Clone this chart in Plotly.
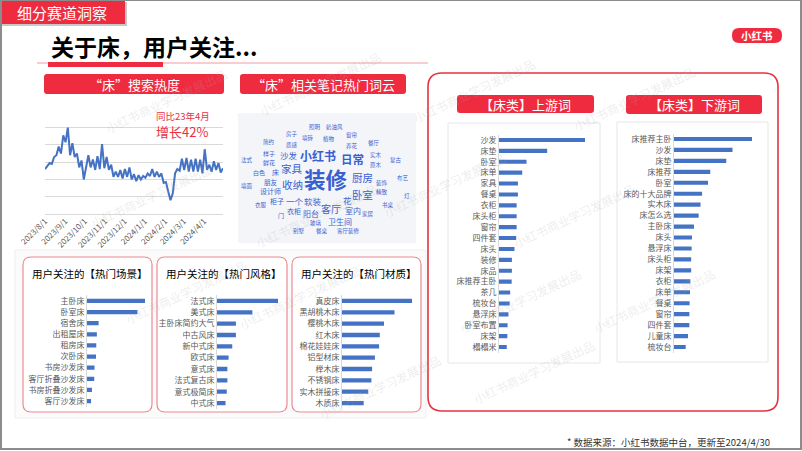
import plotly.graph_objects as go
import pandas as pd

W, H = 802, 451
FONT = "Noto Sans CJK SC"
RED = "#EF2B40"
BLUE = "#4472C4"

# ---------------- data ----------------
trend_start, trend_end = "2023-08-01", "2024-04-30"
trend_values = [26, 28, 29.5, 29, 33, 34, 39, 35, 45.5, 41.5, 50, 34, 41, 33, 35, 27, 31, 20,
                26.5, 34, 27, 31.5, 25.5, 33.5, 26, 40.5, 26.5, 33, 25.5, 28.5, 21.5, 24.5,
                21.5, 25.5, 20.5, 26, 21.5, 27, 20, 23, 19, 22.5, 20, 22, 21, 23.5, 22, 26,
                21.5, 24.5, 21.5, 23.5, 18, 18.5, 13, 8, 12, 23.5, 26, 25, 32, 25.5, 32.5,
                24.5, 31.5, 24.5, 32, 24.5, 31.5, 23.5, 37.5, 25.5, 28.5, 24.5, 30.5, 25.5,
                29.5, 24, 26.5]
month_ticks = ["2023-08-01", "2023-09-01", "2023-10-01", "2023-11-01", "2023-12-01",
               "2024-01-01", "2024-02-01", "2024-03-01", "2024-04-01"]
month_labels = ["2023/8/1", "2023/9/1", "2023/10/1", "2023/11/1", "2023/12/1",
                "2024/1/1", "2024/2/1", "2024/3/1", "2024/4/1"]

scene_labels = ["主卧床", "卧室床", "宿舍床", "出租屋床", "租房床", "次卧床", "书房沙发床",
                "客厅折叠沙发床", "书房折叠沙发床", "客厅沙发床"]
scene_values = [100, 87, 20, 17, 16, 15.5, 13, 12.5, 8.5, 7]

style_labels = ["法式床", "美式床", "主卧床简约大气", "中古风床", "新中式床", "欧式床", "意式床",
                "法式复古床", "意式极简床", "中式床"]
style_values = [100, 58, 31, 31, 25, 19, 17, 17, 16, 14]

material_labels = ["真皮床", "黑胡桃木床", "樱桃木床", "红木床", "棉花娃娃床", "铝型材床", "榉木床",
                   "不锈钢床", "实木拼接床", "木质床"]
material_values = [100, 75, 60, 54, 53, 47, 43, 42, 37.5, 31]

up_labels = ["沙发", "床垫", "卧室", "床单", "家具", "餐桌", "衣柜", "床头柜", "窗帘", "四件套",
             "床头", "装修", "床品", "床推荐主卧", "茶几", "梳妆台", "悬浮床", "卧室布置", "床架", "榻榻米"]
up_values = [100, 56, 32, 27, 22, 22, 20.5, 20.5, 20.5, 20, 18, 15, 15, 14.7, 13, 12.4, 11, 10, 9.7, 9]

down_labels = ["床推荐主卧", "沙发", "床垫", "床推荐", "卧室", "床的十大品牌", "实木床", "床怎么选",
               "主卧床", "床头", "悬浮床", "床头柜", "床架", "衣柜", "床单", "餐桌", "窗帘", "四件套",
               "儿童床", "梳妆台"]
down_values = [100, 75, 67, 46.5, 43.6, 36, 34, 31.6, 25.6, 23, 22.6, 22, 22, 21, 20.5, 20, 19.7,
               19.7, 18, 15]

cloud_words = ["装修", "小红书", "日常", "家具", "厨房", "收纳", "卧室", "客厅", "一个", "软装", "花",
               "阳台", "室内", "卫生间", "沙发", "柜子", "衣柜", "设计师", "朋友", "白色", "床", "鲜花",
               "样子", "简约", "法式", "墙面", "衣服", "门", "玻璃", "房子", "质感", "墙砖", "植物",
               "照明", "奶油风", "窗帘", "养花", "餐厅", "实木", "原木", "复古", "装饰", "精致", "布艺",
               "灯", "书桌", "家居", "别墅", "餐桌", "客厅装修"]
cloud_weights = [21.5, 12, 11.5, 10.5, 10.5, 10.5, 10.5, 10, 8.5, 8.5, 8.5, 8, 8, 8, 8.5, 7, 7,
                 7, 6.5, 6, 7, 6, 6, 5.5, 5.5, 5.5, 5.5, 6, 5.5, 5.5, 5.5, 5.5, 5.5, 5.5, 5.5, 5.5,
                 5.5, 5.5, 5.5, 5.5, 5.5, 5.5, 5.5, 5.5, 5.5, 5.5, 5.5, 5.5, 5.5, 5.5]

# ---------------- layout helpers ----------------
cloud_pos = [(326, 178), (318, 155), (352, 159), (292, 168), (362, 177), (292, 185), (362, 194),
             (331, 209), (295, 201), (313, 201), (347, 200), (311, 213), (353, 211), (340, 221),
             (289, 155), (277, 201), (294, 211), (270, 191), (271, 182), (259, 172), (275.5, 172),
             (269, 163), (269, 153), (269, 142), (247, 160), (247, 186), (261, 205), (281, 215),
             (316, 223), (292, 134), (292, 145), (308, 138), (329, 139), (315, 127), (334, 127),
             (352, 135), (352, 146), (374, 143), (376, 155), (376, 165), (396, 160), (382, 183),
             (382, 192), (403, 178), (407, 196), (388, 205), (368, 214), (299, 231), (322, 231),
             (348, 231)]


def X(p):
    return p / W


def Y(p):
    return 1 - p / H


def rrect(x0, y0, x1, y1, r, fill=None, line_color=None, line_width=0, layer="below"):
    path = (f"M {X(x0 + r)},{Y(y0)} L {X(x1 - r)},{Y(y0)} Q {X(x1)},{Y(y0)} {X(x1)},{Y(y0 + r)} "
            f"L {X(x1)},{Y(y1 - r)} Q {X(x1)},{Y(y1)} {X(x1 - r)},{Y(y1)} "
            f"L {X(x0 + r)},{Y(y1)} Q {X(x0)},{Y(y1)} {X(x0)},{Y(y1 - r)} "
            f"L {X(x0)},{Y(y0 + r)} Q {X(x0)},{Y(y0)} {X(x0 + r)},{Y(y0)} Z")
    return dict(type="path", xref="paper", yref="paper", path=path, layer=layer,
                fillcolor=fill if fill else "rgba(0,0,0,0)",
                line=dict(color=line_color if line_color else "rgba(0,0,0,0)", width=line_width))


def rect(x0, y0, x1, y1, fill=None, line_color=None, line_width=0, layer="below"):
    return dict(type="rect", xref="paper", yref="paper", x0=X(x0), x1=X(x1), y0=Y(y1), y1=Y(y0),
                layer=layer, fillcolor=fill if fill else "rgba(0,0,0,0)",
                line=dict(color=line_color if line_color else "rgba(0,0,0,0)", width=line_width))


def text(t, x, y, size, color="#000", xanchor="center", bold=False, angle=0, pad=1):
    return dict(text=f"<b>{t}</b>" if bold else t, x=X(x), y=Y(y), xref="paper", yref="paper",
                showarrow=False, xanchor=xanchor, yanchor="middle", textangle=angle, borderpad=pad,
                font=dict(family=FONT, size=size, color=color))


shapes = []
annotations = []

# slide frame
shapes.append(rect(1, 0, 801, 449, line_color="#8C8C8C", line_width=2, layer="above"))
# faint panel behind bottom boxes
shapes.append(rect(15, 250, 426, 418, fill="#FBFBFB", line_color="#EFEFEF", line_width=1))

# header tab
shapes.append(rect(2, 2, 127, 26, fill="#C8C8C8"))
shapes.append(rect(0, 0, 125, 24, fill=RED))
annotations.append(text("细分赛道洞察", 62, 12, 15, "#FFFFFF"))

# title
annotations.append(text("关于床，用户关注...", 49, 46, 23, "#000000", xanchor="left", bold=True))
shapes.append(rect(37, 62.5, 428, 63.5, fill="#F29AA3"))
shapes.append(rect(48, 62, 163, 67, fill=RED))

# logo
shapes.append(rrect(732, 28, 782, 43, 7, fill=RED, layer="above"))
annotations.append(text("小红书", 757, 35.5, 10.5, "#FFFFFF", bold=True))

# section bars
shapes.append(rrect(44, 74, 224, 94, 3, fill=RED))
annotations.append(text("“床”搜索热度", 134, 84, 13, "#FFFFFF"))
shapes.append(rrect(240, 74, 406, 94, 3, fill=RED))
annotations.append(text("“床”相关笔记热门词云", 323, 84, 13, "#FFFFFF"))

# trend annotation
annotations.append(text("同比23年4月", 155, 116, 9.5, "#E8303F", xanchor="left", pad=0))
annotations.append(text("增长42%", 155, 131.5, 13, "#E8303F", xanchor="left", pad=0))

# word cloud
shapes.append(rect(238, 113, 416, 243, fill="#F3F5F9"))
for w, s, (cx, cy) in zip(cloud_words, cloud_weights, cloud_pos):
    annotations.append(text(w, cx, cy, s, "#3A5FD0", bold=s >= 11.5, pad=0))

# bottom boxes
bottom_boxes = [(23, 152, "用户关注的【热门场景】"), (157, 287, "用户关注的【热门风格】"),
                (292, 421, "用户关注的【热门材质】")]
for x0, x1, t in bottom_boxes:
    shapes.append(rrect(x0, 257, x1, 412, 8, fill="#FFFFFF", line_color="#EC8A93", line_width=1.2))
    annotations.append(text(t, (x0 + x1) / 2 + 2, 273, 10.5, "#000000"))

# right big box
shapes.append(rrect(428, 73, 778, 411, 14, fill="#FFFFFF", line_color="#E5323F", line_width=1.6))
shapes.append(rect(448, 123, 600, 363, fill="#FFFFFF", line_color="#E6E6E6", line_width=1))
shapes.append(rect(617, 122, 768, 362, fill="#FFFFFF", line_color="#E6E6E6", line_width=1))
shapes.append(rrect(457, 95, 594, 113, 3, fill=RED))
annotations.append(text("【床类】上游词", 525.5, 104, 13, "#FFFFFF"))
shapes.append(rrect(626, 95, 762, 114, 3, fill=RED))
annotations.append(text("【床类】下游词", 694, 104.5, 13, "#FFFFFF"))

# footer
annotations.append(text("* 数据来源：小红书数据中台，更新至2024/4/30", 772, 442, 9.5, "#333333",
                        xanchor="right"))

# watermarks
wm = "小红书商业学习发展出品"
for (wx, wy) in [(100, 62), (320, 45), (540, 52), (700, 60), (85, 195), (250, 215), (445, 185),
                 (640, 215), (120, 330), (300, 335), (520, 300), (720, 300), (380, 425), (600, 410)]:
    annotations.append(dict(text=wm, x=X(wx), y=Y(wy), xref="paper", yref="paper", showarrow=False,
                            textangle=-25, font=dict(family=FONT, size=12,
                                                     color="rgba(170,170,170,0.22)")))

# ---------------- traces ----------------
fig = go.Figure()
dates = pd.date_range(trend_start, trend_end, periods=len(trend_values))
fig.add_trace(go.Scatter(x=dates, y=trend_values, mode="lines", line=dict(color=BLUE, width=2),
                         xaxis="x", yaxis="y", hoverinfo="skip", showlegend=False))

bar_sets = [
    (scene_labels, scene_values, (87, 145), (295.4, 406.6)),
    (style_labels, style_values, (217, 278), (295.3, 408.7)),
    (material_labels, material_values, (342, 412), (295.3, 408.7)),
    (up_labels, up_values, (499, 585), (134.5, 352.5)),
    (down_labels, down_values, (674, 752), (133.5, 352.5)),
]

layout_axes = {}
layout_axes["xaxis"] = dict(domain=[X(45), X(223)], type="date", range=[trend_start, trend_end],
                            tickvals=month_ticks, ticktext=month_labels, tickangle=-45,
                            tickfont=dict(family=FONT, size=8, color="#595959"), showgrid=False,
                            zeroline=False, showline=False, ticks="", anchor="y", automargin=False)
layout_axes["yaxis"] = dict(domain=[Y(214), Y(110)], range=[0, 60.2], dtick=10, showgrid=True,
                            gridcolor="#D9D9D9", gridwidth=1, showticklabels=False, zeroline=True,
                            zerolinecolor="#D9D9D9", zerolinewidth=1, anchor="x", automargin=False)

for i, (labels, values, (bx0, bx1), (by0, by1)) in enumerate(bar_sets, start=2):
    fig.add_trace(go.Bar(y=labels, x=values, orientation="h", marker=dict(color=BLUE, line_width=0),
                         xaxis=f"x{i}", yaxis=f"y{i}", hoverinfo="skip", showlegend=False))
    layout_axes[f"xaxis{i}"] = dict(domain=[X(bx0), X(bx1)], range=[0, 100], visible=False,
                                    anchor=f"y{i}", automargin=False)
    layout_axes[f"yaxis{i}"] = dict(domain=[Y(by1), Y(by0)], type="category", autorange="reversed",
                                    tickfont=dict(family=FONT, size=8, color="#595959"),
                                    showline=True, linecolor="#DADADA", linewidth=1, ticks="",
                                    showgrid=False, zeroline=False, anchor=f"x{i}",
                                    automargin=False)

fig.update_layout(width=W, height=H, margin=dict(l=0, r=0, t=0, b=0, autoexpand=False),
                  autosize=False,
                  paper_bgcolor="#FFFFFF", plot_bgcolor="rgba(0,0,0,0)", bargap=0.62,
                  shapes=shapes, annotations=annotations, font=dict(family=FONT),
                  **layout_axes)

fig.write_html("out.html")
